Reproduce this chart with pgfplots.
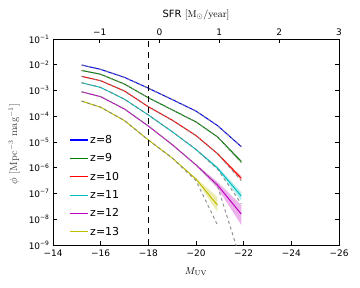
\documentclass[border=0pt]{standalone}
\usepackage[no-math]{fontspec}
\usepackage{pgfplots}
\pgfplotsset{compat=1.18}
\newfontfamily\dvs{DejaVu Sans}
\definecolor{colB}{rgb}{0,0,1}
\definecolor{colG}{rgb}{0,0.5,0}
\definecolor{colR}{rgb}{1,0,0}
\definecolor{colC}{rgb}{0,0.75,0.75}
\definecolor{colM}{rgb}{0.75,0,0.75}
\definecolor{colY}{rgb}{0.75,0.75,0}
\begin{document}
\begin{tikzpicture}
\useasboundingbox (0,0) rectangle (360bp,288bp);
\begin{axis}[
  at={(53bp,43bp)}, anchor=south west,
  width=286bp, height=206bp, scale only axis,
  x dir=reverse, xmin=-26, xmax=-14,
  ymode=log, ymin=1e-9, ymax=1e-1,
  xtick={-26,-24,-22,-20,-18,-16,-14},
  xticklabels={−26,−24,−22,−20,−18,−16,−14},
  ytick={1e-9,1e-8,1e-7,1e-6,1e-5,1e-4,1e-3,1e-2,1e-1},
  yticklabels={10\textsuperscript{−9},10\textsuperscript{−8},10\textsuperscript{−7},10\textsuperscript{−6},10\textsuperscript{−5},10\textsuperscript{−4},10\textsuperscript{−3},10\textsuperscript{−2},10\textsuperscript{−1}},
  minor tick num=0, yminorticks=false,
  xtick pos=bottom, ytick pos=both,
  tick align=inside, major tick length=4bp,
  tick style={black, line width=0.6bp},
  axis line style={line width=0.9bp},
  ticklabel style={font=\dvs\fontsize{9}{10}\selectfont},
  xticklabel style={yshift=-1bp},
  xlabel={$M_{\rm UV}$},
  xlabel style={at={(axis description cs:0.5,-0.13)}, anchor=center, font=\fontsize{10}{12}\selectfont},
  ylabel={$\phi$ [Mpc$^{-3}$ mag$^{-1}$]},
  ylabel style={at={(axis description cs:-0.136,0.49)}, anchor=center, rotate=0, font=\fontsize{10.5}{12}\selectfont, black!75},
  legend style={draw=none, fill=none, at={(0.045,0.02)}, anchor=south west,
    font=\dvs\fontsize{11}{13}\selectfont, row sep=4.8bp},
  legend cell align=left,
  legend image code/.code={\draw[#1, line width=1.2bp, solid] (0bp,0bp) -- (18bp,0bp);},
  clip=true,
]
% shaded uncertainty bands
\addplot[forget plot, draw=none, fill=colY, fill opacity=0.3] coordinates {
 (-19,2.455e-6) (-20,3.981e-7) (-20.9,7.244e-8) (-20.9,1.950e-8) (-20,3.311e-7) (-19,2.344e-6)} -- cycle;
\addplot[forget plot, draw=none, fill=colM, fill opacity=0.3] coordinates {
 (-20,1.380e-6) (-20.9,2.818e-7) (-21.9,3.548e-8) (-21.9,6.026e-9) (-20.9,1.622e-7) (-20,1.202e-6)} -- cycle;
\addplot[forget plot, draw=none, fill=colC, fill opacity=0.3] coordinates {
 (-20,5.370e-6) (-20.9,1.122e-6) (-21.9,1.122e-7) (-21.9,5.248e-8) (-20.9,8.511e-7) (-20,4.898e-6)} -- cycle;
\addplot[forget plot, draw=none, fill=colR, fill opacity=0.3] coordinates {
 (-20.9,3.802e-6) (-21.9,4.677e-7) (-21.9,3.162e-7) (-20.9,3.311e-6)} -- cycle;
\addplot[forget plot, draw=none, fill=colG, fill opacity=0.3] coordinates {
 (-20.9,1.622e-5) (-21.9,1.995e-6) (-21.9,1.514e-6) (-20.9,1.549e-5)} -- cycle;
% luminosity functions
\addplot[colB, line width=1bp] coordinates {(-15.2,9.772e-3) (-16,6.607e-3) (-17,3.236e-3) (-18,1.230e-3) (-19,4.467e-4) (-20,1.585e-4) (-20.9,4.365e-5) (-21.9,6.607e-6)};
\addlegendentry{z=8}
\addplot[colG, line width=1bp] coordinates {(-15.2,6.026e-3) (-16,4.266e-3) (-17,1.778e-3) (-18,5.248e-4) (-19,1.778e-4) (-20,6.026e-5) (-20.9,1.585e-5) (-21.9,1.738e-6)};
\addlegendentry{z=9}
\addplot[colR, line width=1bp] coordinates {(-15.2,3.548e-3) (-16,2.399e-3) (-17,9.550e-4) (-18,2.344e-4) (-19,7.079e-5) (-20,1.778e-5) (-20.9,3.548e-6) (-21.9,3.890e-7)};
\addlegendentry{z=10}
\addplot[colC, line width=1bp] coordinates {(-15.2,1.995e-3) (-16,1.318e-3) (-17,4.571e-4) (-18,1.122e-4) (-19,2.512e-5) (-20,5.129e-6) (-20.9,9.772e-7) (-21.9,7.943e-8)};
\addlegendentry{z=11}
\addplot[colM, line width=1bp] coordinates {(-15.2,8.913e-4) (-16,5.754e-4) (-17,1.905e-4) (-18,4.169e-5) (-19,7.943e-6) (-20,1.288e-6) (-20.9,2.138e-7) (-21.9,1.585e-8)};
\addlegendentry{z=12}
\addplot[colY, line width=1bp] coordinates {(-15.2,3.890e-4) (-16,2.239e-4) (-17,6.761e-5) (-18,1.202e-5) (-19,2.399e-6) (-20,3.631e-7) (-20.9,3.548e-8)};
\addlegendentry{z=13}
% fits (gray dashed)
\addplot[forget plot, gray, line width=1bp, opacity=0.85, dash pattern=on 3bp off 3bp] coordinates {(-15.2,9.772e-3) (-16,6.607e-3) (-17,3.236e-3) (-18,1.230e-3) (-19,4.467e-4) (-20,1.585e-4) (-20.9,4.365e-5) (-21.9,6.607e-6)};
\addplot[forget plot, gray, line width=1bp, opacity=0.85, dash pattern=on 3bp off 3bp] coordinates {(-15.2,6.026e-3) (-16,4.266e-3) (-17,1.778e-3) (-18,5.248e-4) (-19,1.778e-4) (-20,6.026e-5) (-20.9,1.585e-5) (-21.9,1.585e-6)};
\addplot[forget plot, gray, line width=1bp, opacity=0.85, dash pattern=on 3bp off 3bp] coordinates {(-15.2,3.548e-3) (-16,2.399e-3) (-17,9.550e-4) (-18,2.344e-4) (-19,7.079e-5) (-20,1.778e-5) (-20.9,3.548e-6) (-21.9,3.162e-7)};
\addplot[forget plot, gray, line width=1bp, opacity=0.85, dash pattern=on 3bp off 3bp] coordinates {(-15.2,1.995e-3) (-16,1.318e-3) (-17,4.571e-4) (-18,1.122e-4) (-19,2.512e-5) (-20,5.129e-6) (-20.9,8.913e-7) (-21.9,3.981e-8)};
\addplot[forget plot, gray, line width=1bp, opacity=0.85, dash pattern=on 3bp off 3bp] coordinates {(-15.2,8.913e-4) (-16,5.754e-4) (-17,1.905e-4) (-18,4.169e-5) (-19,7.943e-6) (-20,1.288e-6) (-20.9,1.995e-7) (-21.9,2.188e-10)};
\addplot[forget plot, gray, line width=1bp, opacity=0.85, dash pattern=on 3bp off 3bp] coordinates {(-15.2,3.890e-4) (-16,2.239e-4) (-17,6.761e-5) (-18,1.202e-5) (-19,2.399e-6) (-20,3.162e-7) (-20.9,6.026e-9)};
% vertical dashed line
\addplot[forget plot, black, line width=1bp, dash pattern=on 6bp off 5bp] coordinates {(-18,1e-9) (-18,1e-1)};
\end{axis}
\begin{axis}[
  at={(53bp,43bp)}, anchor=south west,
  width=286bp, height=206bp, scale only axis,
  xmin=-1.78, xmax=3, ymin=0, ymax=1,
  axis x line*=top, hide y axis,
  xtick={-1,0,1,2,3}, xticklabels={−1,0,1,2,3},
  minor tick num=0,
  tick align=inside, major tick length=4bp,
  tick style={black, line width=0.6bp},
  axis line style={line width=0.9bp},
  ticklabel style={font=\dvs\fontsize{9}{10}\selectfont},
  xlabel={{\dvs SFR} [M$_\odot$/year]},
  xlabel style={at={(axis description cs:0.5,1.117)}, anchor=center, font=\fontsize{10}{12}\selectfont},
]
\end{axis}
\end{tikzpicture}
\end{document}
